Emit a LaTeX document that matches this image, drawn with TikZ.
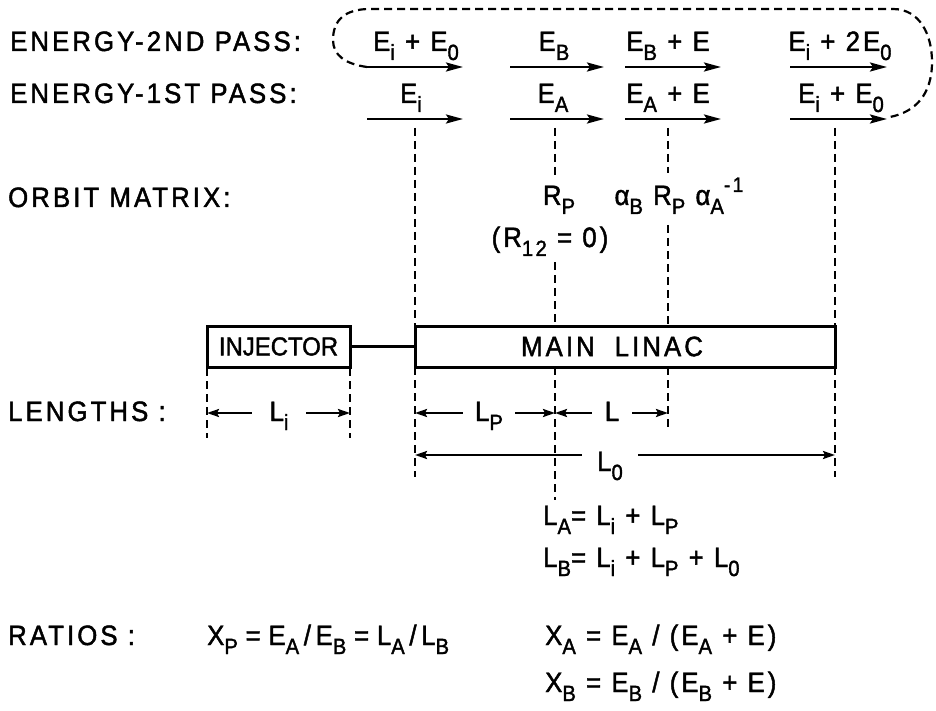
\documentclass[tikz,border=0pt]{standalone}
\usepackage{fontspec}
\setmainfont{Liberation Sans}[LetterSpace=11,FakeBold=1.6,FakeStretch=0.92]
\usetikzlibrary{arrows.meta}
\newcommand\lo[1]{\raisebox{-9pt}{\fontsize{22}{23}\selectfont #1}}
\newcommand\hi[1]{\raisebox{13pt}{\fontsize{21}{22}\selectfont #1}}
\begin{document}
\begin{tikzpicture}[x=1pt,y=-1pt,
  font=\fontsize{28}{30}\selectfont,
  txt/.style={inner sep=0pt, anchor=base},
  lbl/.style={inner sep=0pt, anchor=base west},
  earrow/.style={line width=2.5pt, -{Stealth[length=17pt,width=9pt,inset=3pt]}},
  darrow/.style={line width=2.2pt, {Stealth[length=12pt,width=8pt,inset=2pt]}-{Stealth[length=12pt,width=8pt,inset=2pt]}},
  vdash/.style={line width=2.2pt, dash pattern=on 8pt off 5pt},
  boxnode/.style={draw, line width=3pt, inner sep=0pt},
  dimlab/.style={fill=white, inner ysep=0pt, anchor=base}]
\useasboundingbox (0,0) rectangle (936,711);

% left labels
\node[lbl] (e2lab) at (10,51) {ENERGY-2ND PASS:};
\node[lbl] (e1lab) at (10,103) {ENERGY-1ST PASS:};
\node[lbl] (orb) at (8,207) {ORBIT MATRIX:};
\node[lbl] (len) at (8,421) {LENGTHS :};
\node[lbl] (rat) at (8,645) {RATIOS :};

% energy texts
\node[txt] (t1a) at (416,51) {E\lo{i} + E\lo{0}};
\node[txt] (t1b) at (554,51) {E\lo{B}};
\node[txt] (t1c) at (668,51) {E\lo{B} + E};
\node[txt] (t1d) at (840,51) {E\lo{i} + 2E\lo{0}};
\node[txt] (t2a) at (411,103) {E\lo{i}};
\node[txt] (t2b) at (553,103) {E\lo{A}};
\node[txt] (t2c) at (668,103) {E\lo{A} + E};
\node[txt] (t2d) at (841,103) {E\lo{i} + E\lo{0}};

% energy arrows
\foreach \n/\xa/\xb in {1/367/463,2/510/604,3/625/721,4/790/887}{
  \coordinate (u\n s) at (\xa,67); \coordinate (u\n e) at (\xb,67);
  \coordinate (w\n s) at (\xa,119); \coordinate (w\n e) at (\xb,119);
  \draw[earrow] (u\n s) -- (u\n e);
  \draw[earrow] (w\n s) -- (w\n e);
}

% dashed loop
\coordinate (lpEnd) at (890,117);
\draw[vdash] (u1s) .. controls (345,64) and (333,55) .. (333,40)
  .. controls (333,20) and (345,9) .. (370,9) -- (893,9)
  .. controls (920,9) and (932,35) .. (932,62)
  .. controls (932,95) and (915,112) .. (lpEnd);

% orbit matrix
\node[txt] (rp) at (559,205) {R\lo{P}};
\node[txt] (r12) at (550,247) {(R\lo{12} = 0)};
\node[txt] (abr) at (679,205) {α\lo{B} R\lo{P} α\lo{A}\hi{-1}};

% boxes
\node[boxnode, minimum width=143pt, minimum height=41pt] (inj) at (278.5,346.5)
  {\addfontfeature{LetterSpace=0}\fontsize{26}{28}\selectfont INJECTOR};
\node[boxnode, minimum width=420pt, minimum height=41pt] (lin) at (625,346.5)
  {MAIN\hspace{20pt}LINAC\hspace*{26pt}};
\draw[line width=2.5pt] (inj.east) -- (lin.west);

% vertical dashed lines
\coordinate (a1) at (415,128); \coordinate (a2) at (415,326);
\coordinate (a3) at (415,367); \coordinate (a4) at (415,477);
\draw[vdash] (a1) -- (a2); \draw[vdash] (a3) -- (a4);
\coordinate (b1) at (555,128); \coordinate (b2) at (555,178);
\coordinate (b3) at (555,262); \coordinate (b4) at (555,326);
\coordinate (b5) at (555,367); \coordinate (b6) at (555,500);
\draw[vdash] (b1) -- (b2); \draw[vdash] (b3) -- (b4); \draw[vdash] (b5) -- (b6);
\coordinate (c1) at (668,128); \coordinate (c2) at (668,173);
\coordinate (c3) at (668,225); \coordinate (c4) at (668,326);
\coordinate (c5) at (668,367); \coordinate (c6) at (668,428);
\draw[vdash] (c1) -- (c2); \draw[vdash] (c3) -- (c4); \draw[vdash] (c5) -- (c6);
\coordinate (d1) at (835,128); \coordinate (d2) at (835,326);
\coordinate (d3) at (835,367); \coordinate (d4) at (835,477);
\draw[vdash] (d1) -- (d2); \draw[vdash] (d3) -- (d4);
\coordinate (e1) at (207,368); \coordinate (e2) at (207,438);
\coordinate (f1) at (350,368); \coordinate (f2) at (350,438);
\draw[vdash] (e1) -- (e2); \draw[vdash] (f1) -- (f2);

% dimension arrows
\coordinate (liL) at (207,413); \coordinate (liR) at (350,413);
\draw[darrow] (liL) -- (liR);
\node[dimlab, inner xsep=18pt] (Li) at (279,421) {L\lo{i}};
\coordinate (lpL) at (415,413); \coordinate (lpR) at (555,413);
\draw[darrow] (lpL) -- (lpR);
\node[dimlab, inner xsep=12pt] (Lp) at (489,421) {L\lo{P}};
\coordinate (lL) at (555,413); \coordinate (lR) at (668,413);
\draw[darrow] (lL) -- (lR);
\node[dimlab, inner xsep=13pt] (Ll) at (612,421) {L};
\coordinate (loL) at (415,455); \coordinate (loR) at (835,455);
\draw[darrow] (loL) -- (loR);
\node[dimlab, inner xsep=15pt] (Lo) at (610,471) {L\lo{0}};

% length formulas
\node[lbl] (la) at (543,525) {L\lo{A}= L\lo{i} + L\lo{P}};
\node[lbl] (lb) at (543,567) {L\lo{B}= L\lo{i} + L\lo{P} + L\lo{0}};

% ratios
\node[lbl] (xp) at (207,645) {X\lo{P}\;=\;E\lo{A}\,/\,E\lo{B}\;=\;L\lo{A}\,/\,L\lo{B}};
\node[lbl] (xa) at (545,645) {X\lo{A} = E\lo{A} / (E\lo{A} + E)};
\node[lbl] (xb) at (545,692) {X\lo{B} = E\lo{B} / (E\lo{B} + E)};
\end{tikzpicture}
\end{document}
